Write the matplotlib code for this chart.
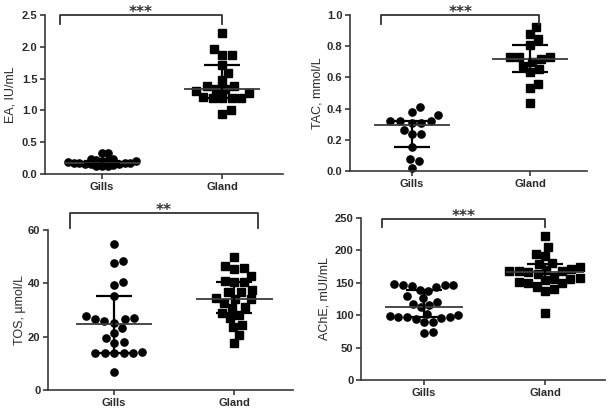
import numpy as np
import matplotlib
matplotlib.use("Agg")
import matplotlib.pyplot as plt

# 값들은 그림에서 읽어온 것 (Gills = 원, Gland = 사각형)
groups = ["Gills", "Gland"]

ea_gills = [0.335, 0.335, 0.24, 0.23, 0.22, 0.22, 0.21, 0.20, 0.19, 0.18,
            0.18, 0.17, 0.17, 0.16, 0.15, 0.15, 0.14, 0.13, 0.13, 0.12]
ea_gland = [2.21, 1.96, 1.87, 1.87, 1.72, 1.59, 1.48, 1.39, 1.38, 1.34,
            1.33, 1.31, 1.28, 1.21, 1.20, 1.19, 1.19, 1.19, 1.01, 0.95]
ea_median = [0.18, 1.34]
ea_q1 = [0.15, 1.20]
ea_q3 = [0.21, 1.72]

tac_gills = [0.41, 0.38, 0.36, 0.32, 0.32, 0.32, 0.31, 0.31, 0.265, 0.235,
             0.235, 0.155, 0.08, 0.062, 0.02]
tac_gland = [0.925, 0.88, 0.845, 0.81, 0.73, 0.73, 0.73, 0.717, 0.696, 0.674,
             0.653, 0.632, 0.56, 0.53, 0.433]
tac_median = [0.297, 0.717]
tac_q1 = [0.155, 0.632]
tac_q3 = [0.32, 0.81]

tos_gills = [54.8, 48.2, 47.7, 40.5, 39.5, 35.1, 27.6, 27.1, 26.8, 26.8,
             25.9, 25.1, 23.4, 21.4, 19.5, 18.0, 17.7, 14.3, 14.0, 13.8,
             13.7, 13.7, 13.7, 6.8]
tos_gland = [49.8, 46.6, 45.6, 45.3, 42.7, 40.7, 40.6, 40.6, 37.5, 36.6,
             36.6, 34.6, 34.0, 34.0, 32.5, 31.0, 30.6, 28.7, 28.3, 26.9,
             24.4, 23.5, 20.6, 17.5]
tos_median = [24.9, 34.0]
tos_q1 = [14.0, 28.8]
tos_q3 = [35.2, 40.6]

ache_gills = [148, 147, 147, 146, 145, 144, 139, 137, 129, 126, 121, 118, 116,
              112, 102, 100, 99, 98, 97, 97, 95, 94, 90, 89, 74, 72]
ache_gland = [222, 205, 194, 191, 181, 179, 175, 171, 170, 169, 169, 168, 166,
              164, 159, 157, 156, 155, 151, 150, 149, 144, 141, 137, 104]
ache_median = [113, 167]
ache_q1 = [97, 150]
ache_q3 = [139, 179]

ylabels = ["EA, IU/mL", "TAC, mmol/L", "TOS, \u00b5mol/L", "AChE, mUI/mL"]
signif = ["***", "***", "**", "***"]

TXT = "#2a2a2a"
plt.rcParams["font.family"] = ["Liberation Sans", "DejaVu Sans"]
plt.rcParams["font.weight"] = "bold"


def swarm_once(ypix, d):
    placed = []
    xoff = np.zeros(len(ypix))
    for i in np.argsort(ypix, kind="stable"):
        y = ypix[i]
        cands = [0.0]
        for px, py in placed:
            dy = abs(py - y)
            if dy < d:
                dx = np.sqrt(d * d - dy * dy)
                cands += [px + dx, px - dx]
        cands.sort(key=abs)
        for c in cands:
            if all((c - px) ** 2 + (y - py) ** 2 >= d * d - 1e-6 for px, py in placed):
                break
        placed.append((c, y))
        xoff[i] = c
    return xoff


def swarm_x(ax, values, center, d=9.5, half_w=42):
    # 겹치지 않게 점들을 좌우로 벌려 놓기 (픽셀 단위, beeswarm 방식)
    # 너무 넓어지면 간격을 줄여서 겹치게 함 (GraphPad 처럼)
    values = np.asarray(values, dtype=float)
    tr = ax.transData
    pts = tr.transform(np.column_stack([np.full(len(values), center), values]))
    ypix = pts[:, 1]
    x0 = pts[0, 0]
    xoff = swarm_once(ypix, d)
    while np.abs(xoff).max() > half_w and d > 2:
        d *= 0.93
        xoff = swarm_once(ypix, d)
    back = tr.inverted().transform(np.column_stack([x0 + xoff, ypix]))
    return back[:, 0]


fig = plt.figure(figsize=(6.09, 4.08), dpi=100)

# 패널 설정: [left, bottom, width, height], xlim, ylim, yticks, 형식
panels = [
    dict(rect=[0.0739, 0.5735, 0.3908, 0.3897], xlim=(-0.475, 1.508), ylim=(0, 2.5),
         yticks=np.arange(0, 2.51, 0.5), fmt="{:.1f}", data=(ea_gills, ea_gland),
         med=ea_median, q1=ea_q1, q3=ea_q3, br=(-0.35, 1.0, 2.5, 2.36), lab=-0.12),
    dict(rect=[0.5747, 0.5809, 0.3892, 0.3824], xlim=(-0.525, 1.483), ylim=(0, 1.0),
         yticks=np.arange(0, 1.01, 0.2), fmt="{:.1f}", data=(tac_gills, tac_gland),
         med=tac_median, q1=tac_q1, q3=tac_q3, br=(-0.26, 1.08, 1.0, 0.942), lab=-0.112),
    dict(rect=[0.0788, 0.0441, 0.4023, 0.3922], xlim=(-0.55, 1.49), ylim=(0, 60),
         yticks=np.arange(0, 61, 20), fmt="{:.0f}", data=(tos_gills, tos_gland),
         med=tos_median, q1=tos_q1, q3=tos_q3, br=(-0.37, 1.2, 66.4, 60.75), lab=-0.09),
    dict(rect=[0.5928, 0.0686, 0.4007, 0.3970], xlim=(-0.52, 1.496), ylim=(0, 250),
         yticks=np.arange(0, 251, 50), fmt="{:.0f}", data=(ache_gills, ache_gland),
         med=ache_median, q1=ache_q1, q3=ache_q3, br=(-0.35, 1.0, 248.8, 236.5), lab=-0.125),
]

for k, p in enumerate(panels):
    ax = fig.add_axes(p["rect"])
    ax.set_xlim(*p["xlim"])
    ax.set_ylim(*p["ylim"])
    for s in ["top", "right"]:
        ax.spines[s].set_visible(False)
    for s in ["left", "bottom"]:
        ax.spines[s].set_linewidth(1.2)
        ax.spines[s].set_color("#3a3a3a")

    # 점 찍기
    markers = ["o", "s"]
    for j, vals in enumerate(p["data"]):
        xs = swarm_x(ax, vals, j)
        ax.plot(xs, vals, linestyle="none", marker=markers[j], markersize=5.2,
                color="black", zorder=2, clip_on=False)

    # 중앙값 + 사분위 범위
    for j in range(2):
        ax.hlines(p["med"][j], j - 0.32, j + 0.32, color="#3c3c3c", lw=1.3, zorder=3)
        ax.hlines([p["q1"][j], p["q3"][j]], j - 0.15, j + 0.15, color="black", lw=1.6, zorder=3)
        ax.vlines(j, p["q1"][j], p["q3"][j], color="black", lw=1.6, zorder=3)

    # 유의성 표시 bracket
    x1, x2, ytop, ybot = p["br"]
    ax.plot([x1, x1, x2, x2], [ybot, ytop, ytop, ybot], color="#333333", lw=1.3,
            clip_on=False, zorder=4)
    ax.annotate(signif[k], xy=((x1 + x2) / 2, ytop), xytext=(0, -1.5), textcoords="offset points",
                ha="center", va="baseline", fontsize=11, color="#333333",
                family="DejaVu Sans", annotation_clip=False)

    ax.set_xticks([0, 1])
    ax.set_xticklabels(groups)
    ax.set_yticks(p["yticks"])
    ax.set_yticklabels([p["fmt"].format(v) for v in p["yticks"]])
    ax.tick_params(axis="both", direction="out", length=3.5, width=1.2, colors="#3a3a3a",
                   labelsize=8, labelcolor=TXT, pad=2)
    ax.set_ylabel(ylabels[k], fontsize=9, color=TXT)
    ax.yaxis.set_label_coords(p["lab"], 0.5)

fig.savefig("out.png", dpi=100)
